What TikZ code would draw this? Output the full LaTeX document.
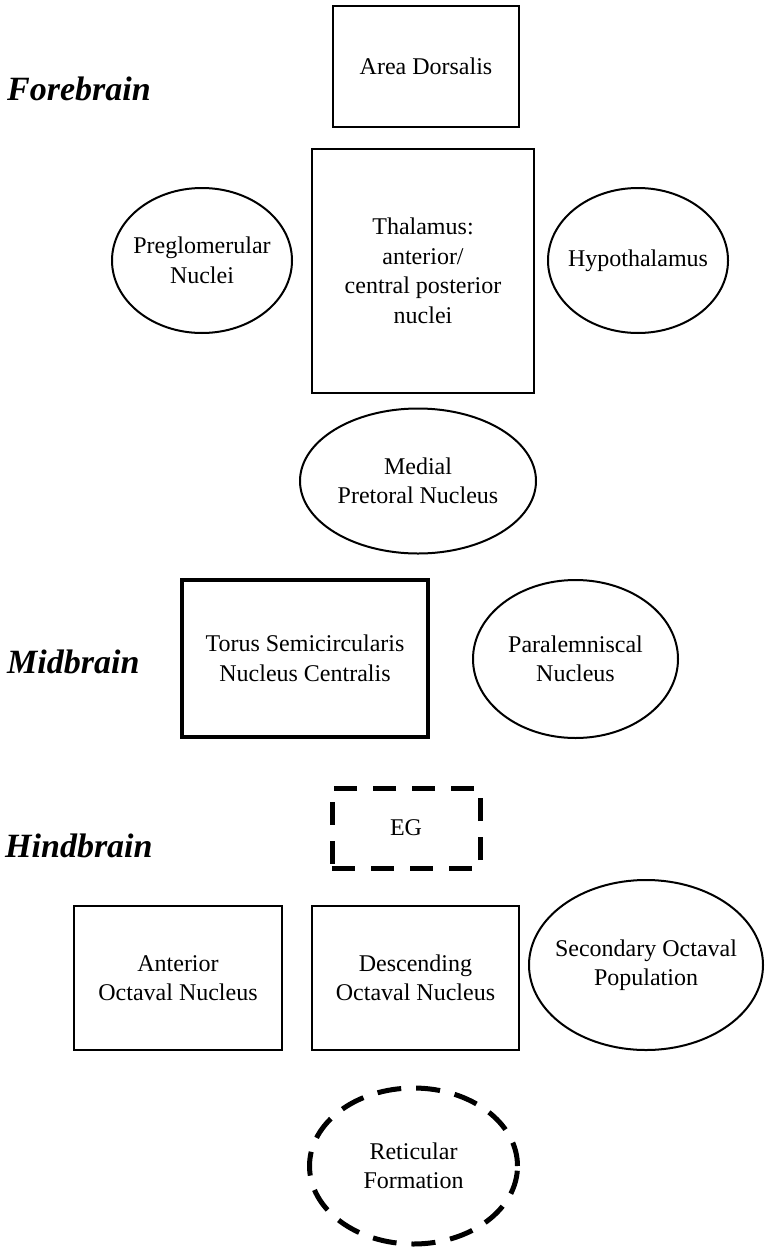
\documentclass[tikz,border=0pt]{standalone}
\usepackage{fontspec}
\setmainfont{Liberation Serif}
\usetikzlibrary{shapes.geometric}
\begin{document}
\begin{tikzpicture}[x=1pt,y=-1pt,
  lbl/.style={align=center,font=\fontsize{24}{29.5}\selectfont,inner sep=0pt},
  region/.style={anchor=base west,inner sep=0pt,font=\fontsize{34}{40}\selectfont\bfseries\itshape},
  boxnode/.style={draw,rectangle,line width=2pt,inner sep=0pt,outer sep=0pt},
  thickbox/.style={boxnode,line width=4pt},
  ellnode/.style={draw,ellipse,line width=2pt,inner sep=0pt,outer sep=0pt},
  dashbox/.style={draw,rectangle,line width=5pt,dash pattern=on 23pt off 16pt,inner sep=0pt},
  dashell/.style={draw,ellipse,line width=5pt,dash pattern=on 24pt off 15pt,inner sep=0pt}]
\useasboundingbox (0,0) rectangle (765,1250);
\fill[white] (0,0) rectangle (765,1250);
% region labels
\node[region] (fore) at (7,100) {Forebrain};
\node[region] (mid) at (7,673) {Midbrain};
\node[region] (hind) at (5,857) {Hindbrain};
% forebrain
\node[boxnode,minimum width=186pt,minimum height=121pt,label={[lbl]center:Area Dorsalis}] (area) at (426,66.5) {};
\node[boxnode,minimum width=222pt,minimum height=244pt,label={[lbl]center:{Thalamus:\\anterior/\\central posterior\\nuclei}}] (thal) at (423,271) {};
\node[ellnode,minimum width=180pt,minimum height=145pt,label={[lbl]center:{Preglomerular\\Nuclei}}] (preg) at (202,260.5) {};
\node[ellnode,minimum width=180pt,minimum height=145pt,label={[lbl]center:Hypothalamus}] (hypo) at (638,260.5) {};
\node[ellnode,minimum width=236pt,minimum height=145pt,label={[lbl]center:{Medial\\Pretoral Nucleus}}] (medial) at (418,481) {};
% midbrain
\node[thickbox,minimum width=246pt,minimum height=157pt,label={[lbl]center:{Torus Semicircularis\\Nucleus Centralis}}] (torus) at (305,658.5) {};
\node[ellnode,minimum width=205pt,minimum height=158pt,label={[lbl]center:{Paralemniscal\\Nucleus}}] (para) at (575.5,659) {};
% hindbrain
\node[dashbox,minimum width=148pt,minimum height=80pt,label={[lbl]center:EG}] (eg) at (406,828) {};
\node[boxnode,minimum width=208pt,minimum height=144pt,label={[lbl]center:{Anterior\\Octaval Nucleus}}] (ant) at (178,978) {};
\node[boxnode,minimum width=207pt,minimum height=144pt,label={[lbl]center:{Descending\\Octaval Nucleus}}] (desc) at (415.5,978) {};
\node[ellnode,minimum width=234pt,minimum height=170pt,label={[lbl]center:{Secondary Octaval\\Population}}] (sec) at (646,965) {};
\node[dashell,minimum width=208pt,minimum height=156pt,label={[lbl]center:{Reticular\\Formation}}] (ret) at (413.5,1166) {};
\end{tikzpicture}
\end{document}
